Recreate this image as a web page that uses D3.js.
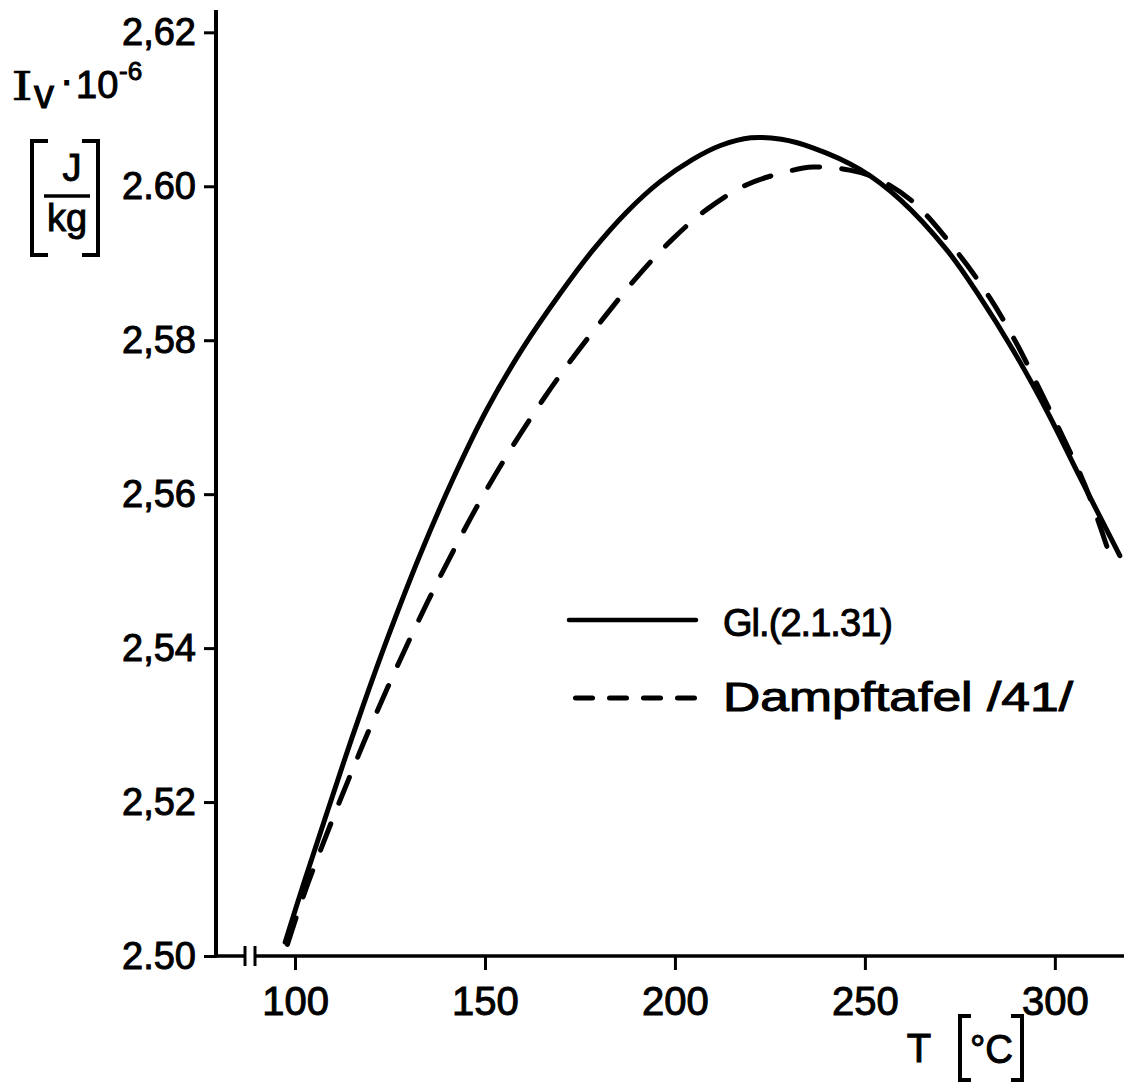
<!DOCTYPE html>
<html>
<head>
<meta charset="utf-8">
<script src="https://cdn.jsdelivr.net/npm/d3@7"></script>
<style>
  html, body { margin: 0; padding: 0; background: #fff; }
  svg text { font-family: "Liberation Sans", Arial, sans-serif; fill: #000; stroke: #000; stroke-width: 1px; }
</style>
</head>
<body>
<svg id="chart" width="1124" height="1082"></svg>
<script>
// --- values ---
const tempTicks = [100, 150, 200, 250, 300];
const ivTicks = [2.50, 2.52, 2.54, 2.56, 2.58, 2.60, 2.62];
const ivTickLabels = ["2.50", "2,52", "2,54", "2,56", "2,58", "2.60", "2,62"];

// Gl.(2.1.31), solid
const solidT  = [97.4, 102.6, 107.8, 112.9, 117.9, 124.2, 132.9, 141.6, 150.5, 160.0, 169.7, 178.4, 187.4, 196.1, 204.7, 212.0, 220.0, 228.0, 236.3, 248.7, 259.2, 271.6, 280.3, 288.9, 297.9, 306.6, 317.1];
const solidIv = [2.5018, 2.5099, 2.5177, 2.5253, 2.5325, 2.5411, 2.5521, 2.5620, 2.5710, 2.5790, 2.5860, 2.5917, 2.5967, 2.6006, 2.6035, 2.6053, 2.6063, 2.6061, 2.6050, 2.6022, 2.5983, 2.5917, 2.5856, 2.5788, 2.5708, 2.5622, 2.5520];

// Dampftafel /41/, dashed
const dashT  = [98.0, 102.5, 110.3, 115.8, 119.7, 127.6, 134.7, 140.8, 147.9, 156.6, 165.3, 171.6, 181.1, 190.0, 199.5, 208.4, 218.9, 229.5, 236.3, 246.0, 253.2, 262.6, 274.2, 282.9, 290.0, 296.8, 306.6, 310.0, 314.5];
const dashIv = [2.5015, 2.5082, 2.5183, 2.5250, 2.5296, 2.5384, 2.5458, 2.5518, 2.5584, 2.5657, 2.5723, 2.5767, 2.5828, 2.5882, 2.5932, 2.5970, 2.6002, 2.6019, 2.6025, 2.6021, 2.6010, 2.5980, 2.5915, 2.5855, 2.5795, 2.5728, 2.5627, 2.5585, 2.5520];

const legendLabels = ["Gl.(2.1.31)", "Dampftafel /41/"];

// --- drawing ---
const svg = d3.select("#chart");
const x = d3.scaleLinear().domain([79.2, 318.2]).range([216, 1124]);
const y = d3.scaleLinear().domain([2.5, 2.6229]).range([956, 10]);
const axisLeftX = x.range()[0], axisBottomY = y.range()[0];

// y axis
const gy = svg.append("g").attr("transform", `translate(${axisLeftX},0)`)
  .call(d3.axisLeft(y).tickValues(ivTicks).tickSize(12).tickPadding(8)
    .tickFormat((d, i) => ivTickLabels[i]));
gy.select(".domain").remove();
gy.selectAll(".tick line").attr("stroke", "#000").attr("stroke-width", 3);
gy.selectAll(".tick text").attr("font-size", 38).attr("font-family", null);

// x axis
const gx = svg.append("g").attr("transform", `translate(0,${axisBottomY})`)
  .call(d3.axisBottom(x).tickValues(tempTicks).tickSize(14).tickPadding(17));
gx.select(".domain").remove();
gx.selectAll(".tick line").attr("stroke", "#000").attr("stroke-width", 3);
gx.selectAll(".tick text").attr("font-size", 40).attr("font-family", null);

// axis lines, with the break near the origin
svg.append("line").attr("x1", axisLeftX).attr("x2", axisLeftX)
  .attr("y1", y.range()[1]).attr("y2", axisBottomY + 1.5)
  .attr("stroke", "#000").attr("stroke-width", 4);
svg.append("line").attr("x1", axisLeftX).attr("x2", 244)
  .attr("y1", axisBottomY).attr("y2", axisBottomY)
  .attr("stroke", "#000").attr("stroke-width", 3.5);
svg.append("line").attr("x1", 256).attr("x2", 1124)
  .attr("y1", axisBottomY).attr("y2", axisBottomY)
  .attr("stroke", "#000").attr("stroke-width", 3.5);
[245, 255].forEach(bx => {
  svg.append("line").attr("x1", bx).attr("x2", bx)
    .attr("y1", axisBottomY - 10).attr("y2", axisBottomY + 10)
    .attr("stroke", "#000").attr("stroke-width", 3);
});

// curves
const line = d3.line().x(d => x(d[0])).y(d => y(d[1])).curve(d3.curveCatmullRom.alpha(0.5));
svg.append("path").datum(d3.zip(solidT, solidIv)).attr("d", line)
  .attr("fill", "none").attr("stroke", "#000").attr("stroke-width", 5).attr("stroke-linecap", "round");
svg.append("path").datum(d3.zip(dashT, dashIv)).attr("d", line)
  .attr("fill", "none").attr("stroke", "#000").attr("stroke-width", 5)
  .attr("stroke-linecap", "round").attr("stroke-dasharray", "28,22");

// legend
const legend = svg.append("g");
legend.append("line").attr("x1", 569).attr("x2", 696).attr("y1", 620).attr("y2", 620)
  .attr("stroke", "#000").attr("stroke-width", 4.5).attr("stroke-linecap", "round");
legend.append("line").attr("x1", 575.5).attr("x2", 694.5).attr("y1", 698).attr("y2", 698)
  .attr("stroke", "#000").attr("stroke-width", 5).attr("stroke-linecap", "round")
  .attr("stroke-dasharray", "17,17");
legend.append("text").attr("x", 723).attr("y", 636).attr("font-size", 38)
  .attr("textLength", 170).attr("lengthAdjust", "spacing").text(legendLabels[0]);
legend.append("text").attr("x", 723).attr("y", 711).attr("font-size", 40)
  .attr("textLength", 350).attr("lengthAdjust", "spacingAndGlyphs").text(legendLabels[1]);

// y title: Iv·10^-6 [J/kg]
const yt = svg.append("g");
yt.append("text").attr("transform", "translate(22,100) scale(1.4,1)")
  .attr("text-anchor", "middle").attr("font-size", 40)
  .style("font-family", "'DejaVu Serif', serif").style("stroke-width", "0.3px").text("I");
yt.append("text").attr("x", 34).attr("y", 108).attr("font-size", 40).text("v");
yt.append("text").attr("x", 60).attr("y", 94).attr("font-size", 40).text("·");
yt.append("text").attr("x", 76).attr("y", 98).attr("font-size", 38).text("10");
yt.append("text").attr("x", 119).attr("y", 80).attr("font-size", 26).text("-6");
const bracket = (x0, x1, y0, y1) => `M${x1},${y0}H${x0}V${y1}H${x1}`;
yt.append("path").attr("d", bracket(32, 48, 141, 255))
  .attr("fill", "none").attr("stroke", "#000").attr("stroke-width", 4);
yt.append("path").attr("d", bracket(98, 82, 141, 255))
  .attr("fill", "none").attr("stroke", "#000").attr("stroke-width", 4);
yt.append("text").attr("x", 72).attr("y", 181).attr("text-anchor", "middle")
  .attr("font-size", 38).text("J");
yt.append("line").attr("x1", 44).attr("x2", 90).attr("y1", 196).attr("y2", 196)
  .attr("stroke", "#000").attr("stroke-width", 3.5);
yt.append("text").attr("x", 67).attr("y", 231).attr("text-anchor", "middle")
  .attr("font-size", 38).text("kg");

// x title: T [°C]
const xt = svg.append("g");
xt.append("text").attr("x", 919).attr("y", 1062).attr("text-anchor", "middle")
  .attr("font-size", 40).text("T");
xt.append("path").attr("d", bracket(960, 971, 1016, 1080))
  .attr("fill", "none").attr("stroke", "#000").attr("stroke-width", 4);
xt.append("text").attr("x", 970).attr("y", 1063).attr("font-size", 40)
  .attr("textLength", 43).attr("lengthAdjust", "spacingAndGlyphs").text("°C");
xt.append("path").attr("d", bracket(1022, 1011, 1016, 1080))
  .attr("fill", "none").attr("stroke", "#000").attr("stroke-width", 4);
</script>
</body>
</html>
